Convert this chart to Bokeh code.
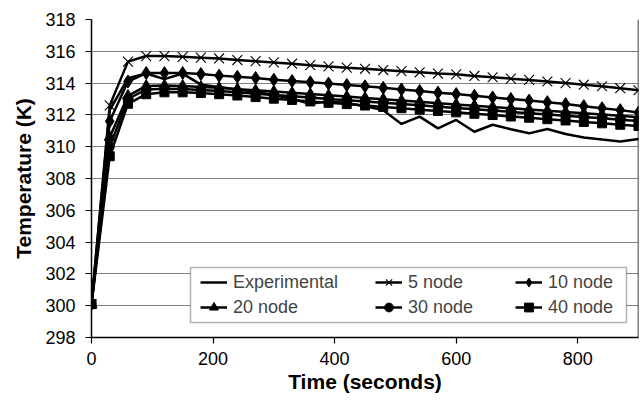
from bokeh.plotting import figure
from bokeh.models import Range1d, FixedTicker, Legend, LegendItem, Span, BoxAnnotation
from bokeh.embed import file_html
from bokeh.resources import INLINE

time_s = [0, 30, 60, 90, 120, 150, 180, 210, 240, 270, 300, 330, 360, 390, 420,
          450, 480, 510, 540, 570, 600, 630, 660, 690, 720, 750, 780, 810, 840, 870, 900]

experimental = [300.1, 312.3, 314.3, 314.6, 314.25, 314.6, 313.9, 313.75, 313.6, 313.45,
                313.25, 313.0, 312.7, 312.85, 312.75, 312.55, 312.3, 311.43, 311.89, 311.15,
                311.68, 310.94, 311.38, 311.1, 310.84, 311.11, 310.8, 310.58, 310.45, 310.33, 310.48]
node5 = [300.1, 312.6, 315.35, 315.7, 315.7, 315.65, 315.6, 315.55, 315.45, 315.38,
         315.3, 315.22, 315.13, 315.05, 314.97, 314.9, 314.82, 314.75, 314.68, 314.6,
         314.55, 314.45, 314.37, 314.28, 314.2, 314.1, 314.0, 313.9, 313.8, 313.68, 313.55]
node10 = [300.1, 311.6, 314.1, 314.63, 314.63, 314.63, 314.57, 314.47, 314.4, 314.32,
          314.21, 314.13, 314.05, 313.97, 313.88, 313.8, 313.7, 313.6, 313.5, 313.4,
          313.31, 313.2, 313.1, 313.0, 312.9, 312.8, 312.68, 312.55, 312.42, 312.3, 312.15]
node20 = [300.1, 310.6, 313.2, 313.82, 313.85, 313.82, 313.75, 313.7, 313.62, 313.55,
          313.47, 313.39, 313.31, 313.23, 313.15, 313.07, 312.99, 312.9, 312.82, 312.74,
          312.66, 312.58, 312.5, 312.42, 312.34, 312.26, 312.18, 312.1, 312.02, 311.94, 311.85]
node30 = [300.1, 310.0, 313.0, 313.6, 313.65, 313.63, 313.57, 313.5, 313.42, 313.33,
          313.25, 313.17, 313.09, 313.0, 312.92, 312.84, 312.76, 312.68, 312.6, 312.52,
          312.44, 312.36, 312.27, 312.19, 312.11, 312.03, 311.95, 311.87, 311.79, 311.7, 311.62]
node40 = [300.1, 309.4, 312.7, 313.3, 313.42, 313.42, 313.38, 313.3, 313.22, 313.12,
          313.02, 312.94, 312.85, 312.76, 312.68, 312.59, 312.5, 312.42, 312.33, 312.25,
          312.16, 312.07, 311.99, 311.9, 311.82, 311.73, 311.65, 311.56, 311.47, 311.38, 311.3]

x_ticks = [0, 200, 400, 600, 800]
y_ticks = [298, 300, 302, 304, 306, 308, 310, 312, 314, 316, 318]
x_min, x_max = 0, 900
y_min, y_max = 298, 318

FONT = "Liberation Sans"

p = figure(frame_width=547, frame_height=318, output_backend="svg", toolbar_location=None,
           x_range=Range1d(x_min, x_max), y_range=Range1d(y_min, y_max),
           min_border_left=91, min_border_right=2, min_border_top=19, min_border_bottom=60)
p.background_fill_color = "white"
p.border_fill_color = "white"
p.outline_line_color = None

p.xgrid.grid_line_color = None
p.ygrid.grid_line_color = "#808080"
p.ygrid.grid_line_width = 1
p.ygrid.ticker = FixedTicker(ticks=y_ticks)

p.xaxis.ticker = FixedTicker(ticks=x_ticks)
p.yaxis.ticker = FixedTicker(ticks=y_ticks)
for ax in (p.xaxis, p.yaxis):
    ax.axis_line_color = "black"
    ax.axis_line_width = 1.5
    ax.major_tick_line_color = "black"
    ax.major_tick_line_width = 1.2
    ax.major_tick_in = 0
    ax.major_tick_out = 6
    ax.minor_tick_line_color = None
    ax.major_label_text_font = FONT
    ax.major_label_text_font_size = "18px"
    ax.major_label_text_color = "black"
    ax.axis_label_text_font = FONT
    ax.axis_label_text_font_style = "bold"
    ax.axis_label_text_font_size = "21px"
    ax.axis_label_text_color = "black"
p.xaxis.axis_label = "Time (seconds)"
p.yaxis.axis_label = "Temperature (K)"
p.xaxis.major_label_standoff = 8
p.xaxis.axis_label_standoff = 2
p.yaxis.major_label_standoff = 10
p.yaxis.axis_label_standoff = 7

p.add_layout(Span(location=x_max, dimension="height", line_color="black", line_width=1.5))

series = [
    ("Experimental", experimental, None, 0),
    ("5 node", node5, "x", 14),
    ("10 node", node10, "diamond", 13),
    ("20 node", node20, "triangle", 11),
    ("30 node", node30, "circle", 9),
    ("40 node", node40, "square", 9),
]
items = []
for label, ys, marker, size in series:
    rs = [p.line(time_s, ys, line_color="black", line_width=2.5)]
    if marker is not None:
        if marker == "x":
            rs.append(p.scatter(time_s, ys, marker=marker, size=size, line_color="black",
                                line_width=1.1))
        else:
            rs.append(p.scatter(time_s, ys, marker=marker, size=size, line_color="black",
                                fill_color="black", line_width=1))
    items.append(LegendItem(label=label, renderers=rs))

# legend frame (screen units relative to the plot frame)
p.add_layout(BoxAnnotation(left=99, right=535, bottom=15, top=70,
                           left_units="screen", right_units="screen",
                           bottom_units="screen", top_units="screen",
                           fill_color="white", fill_alpha=1,
                           line_color="black", line_width=1.5))

col_x = [109, 284, 424]
col_items = [[items[0], items[3]], [items[1], items[4]], [items[2], items[5]]]
for cx, its in zip(col_x, col_items):
    lg = Legend(items=its, location=(cx, 19), orientation="vertical",
                border_line_color=None, background_fill_alpha=0,
                label_text_font=FONT, label_text_font_size="18px",
                glyph_width=27, glyph_height=22, label_height=22, label_standoff=6,
                padding=0, spacing=3, margin=0)
    p.add_layout(lg, "center")

open("out.html", "w").write(file_html(p, INLINE))
